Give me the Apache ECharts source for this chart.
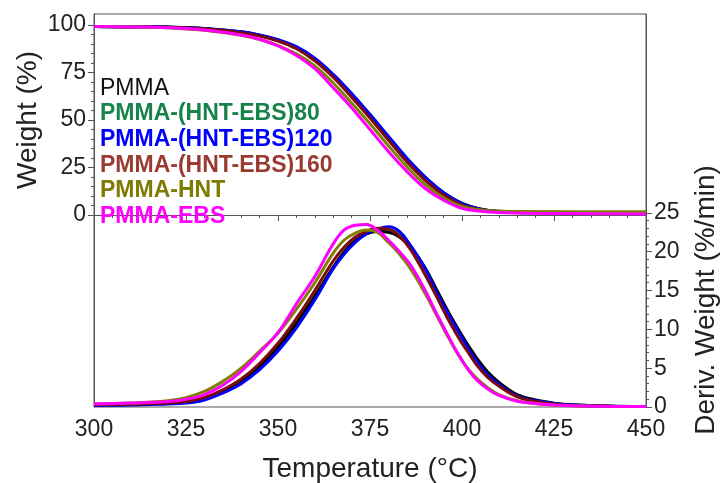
<!DOCTYPE html>
<html>
<head>
<meta charset="utf-8">
<script src="https://cdn.jsdelivr.net/npm/echarts@6/dist/echarts.min.js"></script>
<style>
  html, body { margin: 0; padding: 0; background: #fff; }
  #chart { width: 721px; height: 483px; }
</style>
</head>
<body>
<div id="chart"></div>
<script>
(function() {
  var names = ['PMMA', 'PMMA-(HNT-EBS)80', 'PMMA-(HNT-EBS)120', 'PMMA-(HNT-EBS)160', 'PMMA-HNT', 'PMMA-EBS'];
  var lineColors = ['#000000', '#16803f', '#0000ff', '#7d0a0a', '#808000', '#ff00ff'];
  var textColors = ['#111111', '#17834a', '#0000ff', '#9a3b31', '#7f7a00', '#ff00ff'];

  // TGA, weight (%)
  var tgaTemp = [300, 310, 320, 330, 340, 345, 350, 355, 360, 365, 370, 375, 380, 385, 390, 395, 400, 405, 410, 420, 430, 440, 450];
  var tgaPMMA = [99.2, 99.1, 98.9, 98.1, 96.3, 94.6, 92.0, 88.2, 82.0, 73.3, 63.2, 52.2, 40.8, 29.5, 19.7, 11.8, 6.2, 3.2, 2.0, 1.5, 1.4, 1.3, 1.3];
  var tga80 = [99.2, 99.1, 98.9, 98.15, 96.4, 94.7, 92.1, 88.4, 82.2, 73.6, 63.5, 52.5, 41.1, 29.7, 19.8, 11.8, 6.1, 3.1, 1.9, 1.4, 1.3, 1.3, 1.2];
  var tga120 = [99.2, 99.1, 98.9, 98.2, 96.5, 94.8, 92.3, 88.6, 82.5, 74.0, 64.0, 53.0, 41.5, 30.0, 20.0, 11.8, 6.0, 3.0, 1.8, 1.2, 1.1, 1.0, 1.0];
  var tga160 = [99.2, 99.0, 98.8, 98.0, 96.0, 94.2, 91.5, 87.5, 81.2, 72.5, 62.0, 51.0, 39.5, 28.0, 18.3, 10.5, 5.2, 2.8, 1.8, 1.4, 1.3, 1.3, 1.3];
  var tgaHNT = [99.2, 99.0, 98.5, 97.3, 94.6, 92.4, 89.2, 84.8, 78.5, 69.5, 59.0, 48.0, 36.5, 25.5, 16.0, 9.0, 4.5, 2.7, 2.0, 1.8, 1.7, 1.7, 1.7];
  var tgaEBS = [99.2, 99.0, 98.6, 97.4, 94.8, 92.5, 89.0, 84.0, 77.0, 67.0, 56.5, 45.0, 33.5, 23.0, 14.0, 7.8, 3.5, 2.0, 1.3, 0.9, 0.8, 0.7, 0.6];

  // DTG, deriv. weight (%/min)
  var dtgTemp = [300, 310, 320, 325, 330, 335, 340, 345, 350, 355, 360, 365, 368, 371, 374, 377, 380, 383, 386, 390, 393, 396, 398, 400, 402, 404, 407, 410, 415, 420, 425, 430, 440, 450];
  var dtgPMMA = [0.3, 0.35, 0.5, 0.7, 1.1, 2.0, 3.3, 5.2, 7.7, 10.8, 14.3, 18.0, 20.0, 21.4, 22.3, 22.6, 22.5, 21.9, 20.6, 17.9, 15.2, 12.5, 10.8, 9.2, 7.7, 6.3, 4.5, 3.2, 1.6, 0.9, 0.5, 0.3, 0.12, 0.05];
  var dtg80 = [0.25, 0.3, 0.45, 0.6, 1.0, 1.9, 3.1, 5.0, 7.4, 10.5, 14.0, 17.9, 19.8, 21.3, 22.3, 22.7, 22.8, 22.2, 20.7, 17.8, 15.0, 12.3, 10.6, 9.0, 7.5, 6.1, 4.3, 3.0, 1.5, 0.85, 0.45, 0.25, 0.1, 0.05];
  var dtg120 = [0.2, 0.25, 0.4, 0.5, 0.9, 1.8, 3.0, 4.8, 7.2, 10.2, 13.8, 17.8, 19.7, 21.2, 22.3, 22.9, 23.2, 22.6, 20.8, 17.8, 14.8, 12.2, 10.5, 8.9, 7.3, 5.9, 4.1, 2.9, 1.4, 0.8, 0.45, 0.25, 0.1, 0.05];
  var dtg160 = [0.3, 0.35, 0.5, 0.7, 1.2, 2.2, 3.6, 5.6, 8.2, 11.4, 15.0, 18.8, 20.6, 21.9, 22.6, 23.0, 22.9, 22.0, 20.3, 17.0, 14.3, 11.5, 9.8, 8.2, 6.8, 5.4, 3.8, 2.7, 1.3, 0.7, 0.35, 0.2, 0.1, 0.05];
  var dtgHNT = [0.4, 0.5, 0.8, 1.2, 2.0, 3.3, 5.0, 7.2, 9.5, 12.6, 16.0, 19.8, 21.5, 22.4, 22.8, 22.5, 21.2, 19.7, 17.8, 14.6, 11.9, 9.2, 7.5, 6.0, 4.7, 3.7, 2.5, 1.6, 0.8, 0.45, 0.25, 0.15, 0.08, 0.05];
  var dtgEBS = [0.4, 0.5, 0.7, 1.0, 1.6, 2.8, 4.6, 7.0, 9.6, 13.3, 16.8, 21.0, 22.8, 23.4, 23.5, 22.8, 21.5, 20.0, 18.3, 15.0, 12.1, 9.4, 7.6, 6.0, 4.6, 3.5, 2.3, 1.5, 0.75, 0.45, 0.25, 0.15, 0.08, 0.05];

  var xTicks = [300, 325, 350, 375, 400, 425, 450];
  var weightTicks = [0, 25, 50, 75, 100];
  var weightMinor = [5, 10, 15, 20, 30, 35, 40, 45, 55, 60, 65, 70, 80, 85, 90, 95];
  var derivTicks = [0, 5, 10, 15, 20, 25];
  var derivMinor = [1, 2, 3, 4, 6, 7, 8, 9, 11, 12, 13, 14, 16, 17, 18, 19, 21, 22, 23, 24];

  var tgaSets = [tgaPMMA, tga80, tga120, tga160, tgaHNT, tgaEBS];
  var dtgSets = [dtgPMMA, dtg80, dtg120, dtg160, dtgHNT, dtgEBS];

  function pairs(xs, ys) {
    return xs.map(function(x, i) { return [x, ys[i]]; });
  }

  var font = '"Liberation Sans", Arial, sans-serif';
  var axisColor = '#555';
  var textColor = '#222';

  var series = [];
  names.forEach(function(name, i) {
    var z = i === 1 ? 1 : 2;
    series.push({
      name: name, type: 'line', xAxisIndex: 0, yAxisIndex: 0,
      data: pairs(tgaTemp, tgaSets[i]), smooth: 0.4, showSymbol: false, z: z,
      lineStyle: { color: lineColors[i], width: 3 }, itemStyle: { color: lineColors[i] }
    });
    series.push({
      name: name, type: 'line', xAxisIndex: 0, yAxisIndex: 2,
      data: pairs(dtgTemp, dtgSets[i]), smooth: 0.4, showSymbol: false, z: z,
      lineStyle: { color: lineColors[i], width: 3 }, itemStyle: { color: lineColors[i] }
    });
  });

  var chart = echarts.init(document.getElementById('chart'), null, { renderer: 'canvas' });
  chart.setOption({
    animation: false,
    backgroundColor: '#fff',
    textStyle: { fontFamily: font },
    grid: {
      left: 94, right: 75, top: 14, bottom: 76, outerBoundsMode: 'none',
      show: true, borderColor: axisColor, borderWidth: 1
    },
    legend: {
      orient: 'vertical', left: 95, top: 77, padding: 0, itemWidth: 0, itemHeight: 0, itemGap: 2.6,
      selectedMode: false, icon: 'rect',
      textStyle: { fontSize: 23, fontFamily: font, fontWeight: 'bold', lineHeight: 23 },
      data: names.map(function(n, i) {
        return { name: n, icon: 'rect', textStyle: { color: textColors[i], fontWeight: i === 0 ? 'normal' : 'bold' } };
      })
    },
    xAxis: {
      type: 'value', min: 300, max: 450, interval: 25,
      name: 'Temperature (°C)', nameLocation: 'middle', nameGap: 48,
      nameTextStyle: { fontSize: 28, color: textColor, fontFamily: font },
      axisLine: { show: true, lineStyle: { color: axisColor, width: 1 } },
      axisTick: { show: true, length: 6, lineStyle: { color: axisColor } },
      minorTick: { show: true, splitNumber: 5, length: 3, lineStyle: { color: axisColor } },
      axisLabel: { fontSize: 23, color: textColor, margin: 11, customValues: xTicks },
      splitLine: { show: false }
    },
    yAxis: [
      {
        type: 'value', position: 'left', min: -101, max: 105.8,
        axisLine: { show: true, lineStyle: { color: axisColor } },
        axisTick: { show: true, length: 6, customValues: weightTicks, lineStyle: { color: axisColor } },
        axisLabel: { fontSize: 23, color: textColor, margin: 8, customValues: weightTicks },
        splitLine: { show: false }
      },
      {
        type: 'value', position: 'left', min: -101, max: 105.8,
        axisLine: { show: false },
        axisTick: { show: true, length: 3, customValues: weightMinor, lineStyle: { color: axisColor } },
        axisLabel: { show: false },
        splitLine: { show: false }
      },
      {
        type: 'value', position: 'right', min: 0, max: 50.6,
        axisLine: { show: true, lineStyle: { color: axisColor } },
        axisTick: { show: true, length: 6, customValues: derivTicks, lineStyle: { color: axisColor } },
        axisLabel: { fontSize: 23, color: textColor, margin: 8, customValues: derivTicks },
        splitLine: { show: false }
      },
      {
        type: 'value', position: 'right', min: 0, max: 50.6,
        axisLine: { show: false },
        axisTick: { show: true, length: 3, customValues: derivMinor, lineStyle: { color: axisColor } },
        axisLabel: { show: false },
        splitLine: { show: false }
      }
    ],
    graphic: [
      {
        type: 'text', x: 28, y: 120, rotation: Math.PI / 2,
        style: { text: 'Weight (%)', fontSize: 28, fontFamily: font, fill: textColor, align: 'center', verticalAlign: 'middle' }
      },
      {
        type: 'text', x: 706, y: 300, rotation: Math.PI / 2,
        style: { text: 'Deriv. Weight (%/min)', fontSize: 28, fontFamily: font, fill: textColor, align: 'center', verticalAlign: 'middle' }
      }
    ],
    series: series
  });
  window.addEventListener('resize', function() { chart.resize(); });
})();
</script>
</body>
</html>
